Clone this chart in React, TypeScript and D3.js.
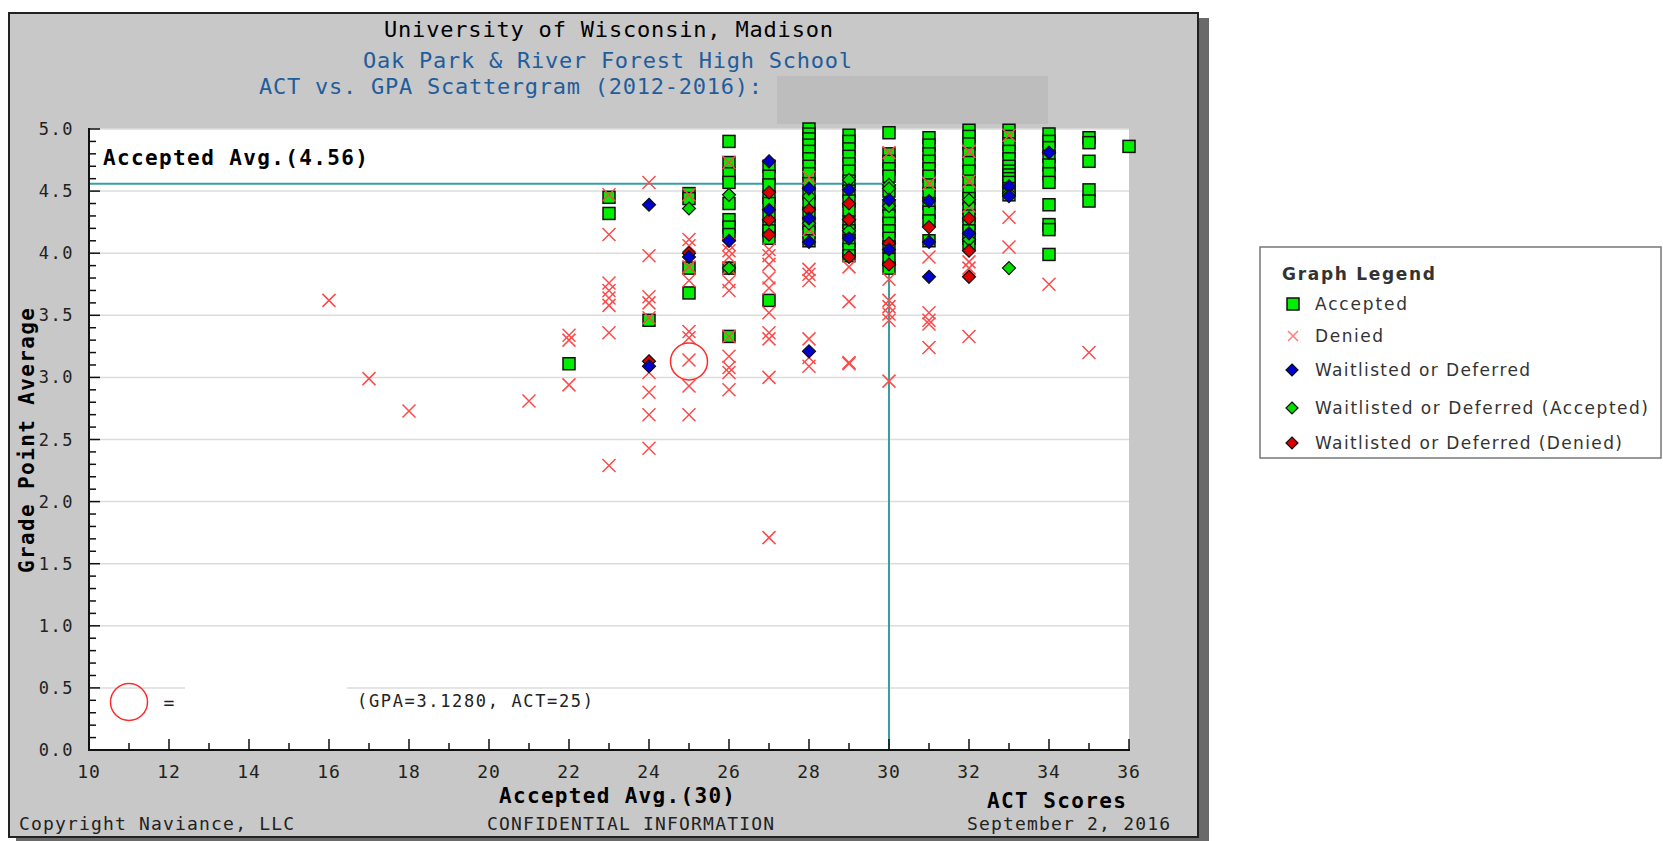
import React from 'react';
import * as d3 from 'd3';

// ACT / GPA pairs
const accepted: [number, number][] = [
  [22, 3.11],
  [23, 4.45], [23, 4.32],
  [24, 3.46],
  [25, 4.48], [25, 4.44], [25, 3.88], [25, 3.68],
  [26, 4.90], [26, 4.73], [26, 4.64], [26, 4.57], [26, 4.40], [26, 4.27], [26, 4.21], [26, 4.15], [26, 3.88], [26, 3.33],
  [27, 4.70], [27, 4.62], [27, 4.55], [27, 4.45], [27, 4.40], [27, 4.30], [27, 4.22], [27, 4.18], [27, 4.12], [27, 3.62],
  [28, 5.00], [28, 4.96], [28, 4.92], [28, 4.87], [28, 4.82], [28, 4.76], [28, 4.70], [28, 4.64], [28, 4.56], [28, 4.48],
  [28, 4.40], [28, 4.32], [28, 4.24], [28, 4.17], [28, 4.10],
  [29, 4.95], [29, 4.90], [29, 4.84], [29, 4.78], [29, 4.72], [29, 4.66], [29, 4.58], [29, 4.50], [29, 4.42], [29, 4.35],
  [29, 4.25], [29, 4.18], [29, 4.10], [29, 4.03], [29, 3.98],
  [30, 4.97], [30, 4.80], [30, 4.74], [30, 4.68], [30, 4.62], [30, 4.50], [30, 4.38], [30, 4.30], [30, 4.24], [30, 4.18],
  [30, 4.12], [30, 4.05], [30, 3.95], [30, 3.88],
  [31, 4.93], [31, 4.87], [31, 4.80], [31, 4.74], [31, 4.68], [31, 4.62], [31, 4.55], [31, 4.48], [31, 4.40], [31, 4.33],
  [31, 4.26], [31, 4.10],
  [32, 4.99], [32, 4.94], [32, 4.88], [32, 4.80], [32, 4.73], [32, 4.66], [32, 4.58], [32, 4.50], [32, 4.44], [32, 4.36],
  [32, 4.30], [32, 4.24], [32, 4.18], [32, 4.12], [32, 4.07],
  [33, 4.99], [33, 4.94], [33, 4.88], [33, 4.82], [33, 4.76], [33, 4.70], [33, 4.66], [33, 4.63], [33, 4.60], [33, 4.57],
  [33, 4.52], [33, 4.47],
  [34, 4.96], [34, 4.90], [34, 4.85], [34, 4.78], [34, 4.71], [34, 4.64], [34, 4.57], [34, 4.39], [34, 4.23], [34, 4.19], [34, 3.99],
  [35, 4.93], [35, 4.89], [35, 4.74], [35, 4.51], [35, 4.42],
  [36, 4.86],
];

const denied: [number, number][] = [
  [16, 3.62], [17, 2.99], [18, 2.73], [21, 2.81],
  [22, 3.34], [22, 3.30], [22, 2.94],
  [23, 4.47], [23, 4.15], [23, 3.76], [23, 3.70], [23, 3.64], [23, 3.58], [23, 3.36], [23, 2.29],
  [24, 4.57], [24, 3.98], [24, 3.65], [24, 3.60], [24, 3.48], [24, 3.04], [24, 2.88], [24, 2.70], [24, 2.43],
  [25, 4.47], [25, 4.11], [25, 4.06], [25, 3.89], [25, 3.78], [25, 3.37], [25, 3.32], [25, 3.14], [25, 2.93], [25, 2.70],
  [26, 4.73], [26, 4.07], [26, 4.02], [26, 3.97], [26, 3.88], [26, 3.77], [26, 3.70], [26, 3.33], [26, 3.17], [26, 3.08],
  [26, 3.04], [26, 2.90],
  [27, 4.03], [27, 3.98], [27, 3.91], [27, 3.80], [27, 3.72], [27, 3.52], [27, 3.36], [27, 3.31], [27, 3.00], [27, 1.71],
  [28, 4.61], [28, 4.19], [28, 3.87], [28, 3.83], [28, 3.78], [28, 3.31], [28, 3.16], [28, 3.09],
  [29, 3.89], [29, 3.61], [29, 3.12], [29, 3.11],
  [30, 4.81], [30, 3.79], [30, 3.62], [30, 3.57], [30, 3.51], [30, 3.46], [30, 2.97],
  [31, 4.56], [31, 3.97], [31, 3.52], [31, 3.46], [31, 3.43], [31, 3.24],
  [32, 4.82], [32, 4.58], [32, 4.38], [32, 3.93], [32, 3.88], [32, 3.33],
  [33, 4.95], [33, 4.29], [33, 4.05],
  [34, 3.75], [35, 3.20],
];

const waitlisted: [number, number][] = [
  [24, 4.39], [24, 3.09], [25, 3.97], [26, 4.10], [27, 4.74], [27, 4.35],
  [28, 4.52], [28, 4.28], [28, 4.09], [28, 3.21], [29, 4.51], [29, 4.12],
  [30, 4.43], [30, 4.03], [31, 4.42], [31, 4.09], [31, 3.81], [32, 4.16],
  [33, 4.54], [33, 4.46], [34, 4.81],
];

const wlAccepted: [number, number][] = [
  [25, 4.36], [26, 4.47], [26, 3.88], [28, 4.46], [28, 4.24], [29, 4.59], [29, 4.27], [29, 4.18],
  [30, 4.55], [30, 4.52], [30, 4.38], [32, 4.43], [32, 4.11], [33, 4.48], [33, 3.88],
];

const wlDenied: [number, number][] = [
  [24, 3.13], [25, 4.00], [27, 4.49], [27, 4.27], [27, 4.15], [28, 4.35], [29, 4.40], [29, 4.27], [29, 3.97],
  [30, 4.08], [30, 3.91], [31, 4.21], [32, 4.28], [32, 4.02], [32, 3.81],
];

const actTicks = d3.range(10, 37, 2);
const actMinor = d3.range(10, 37, 1);
const gpaTicks = d3.range(0, 11).map(i => i * 0.5);
const gpaMinor = d3.range(0, 51).map(i => i * 0.1);

const acceptedAvgGpa = 4.56;
const acceptedAvgAct = 30;
const you = { gpa: 3.128, act: 25 };

const legendItems = [
  { label: 'Accepted', kind: 'square', fill: '#00ee00' },
  { label: 'Denied', kind: 'x', fill: '#ff7b7b' },
  { label: 'Waitlisted or Deferred', kind: 'diamond', fill: '#0000cc' },
  { label: 'Waitlisted or Deferred (Accepted)', kind: 'diamond', fill: '#00dd00' },
  { label: 'Waitlisted or Deferred (Denied)', kind: 'diamond', fill: '#dd0000' },
];

const MONO = '"DejaVu Sans Mono", "Liberation Mono", monospace';
const SANS = '"DejaVu Sans", Verdana, sans-serif';

const x = d3.scaleLinear().domain([10, 36]).range([89, 1129]);
const y = d3.scaleLinear().domain([0, 5]).range([750, 129]);

const diamond = (r: number) => `M0,${-r}L${r},0L0,${r}L${-r},0Z`;
const cross = (r: number) => `M${-r},${-r}L${r},${r}M${-r},${r}L${r},${-r}`;

function Diamonds({ data, fill }: { data: [number, number][]; fill: string }) {
  return (
    <g>
      {data.map((d, i) => (
        <path key={i} transform={`translate(${x(d[0])},${y(d[1])})`} d={diamond(6.5)}
          fill={fill} stroke="#111" strokeWidth={1.2} />
      ))}
    </g>
  );
}

export default function App() {
  const [x0, x1] = x.range();
  const [y0, y1] = y.range();
  return (
    <svg width={1663} height={841} style={{ position: 'absolute', left: 0, top: 0 }}>
      {/* panel + shadow */}
      <rect x={1198} y={18} width={11} height={823} fill="#6a6a6a" />
      <rect x={16} y={837} width={1193} height={4} fill="#6a6a6a" />
      <rect x={9} y={13} width={1189} height={824} fill="#c8c8c8" stroke="#222" strokeWidth={2} />
      <rect x={777} y={76} width={271} height={48} fill="#bdbdbd" />

      {/* titles */}
      <text x={384} y={37} textLength={449} lengthAdjust="spacing" fontFamily={MONO} fontSize={22} fill="#000">University of Wisconsin, Madison</text>
      <text x={363} y={68} textLength={489} lengthAdjust="spacing" fontFamily={MONO} fontSize={22} fill="#1f5d9c">Oak Park &amp; River Forest High School</text>
      <text x={259} y={94} textLength={503} lengthAdjust="spacing" fontFamily={MONO} fontSize={22} fill="#1f5d9c">ACT vs. GPA Scattergram (2012-2016):</text>

      {/* plot area */}
      <rect x={x0} y={y1} width={x1 - x0} height={y0 - y1} fill="#fff" />
      {gpaTicks.filter(t => t > 0).map(t => (
        <line key={t} x1={x0} x2={x1} y1={y(t)} y2={y(t)} stroke="#dcdcdc" strokeWidth={1.5} />
      ))}
      <rect x={185} y={684} width={162} height={36} fill="#fff" />

      {/* average lines */}
      <line x1={x0} x2={x(acceptedAvgAct)} y1={y(acceptedAvgGpa)} y2={y(acceptedAvgGpa)} stroke="#3a9e9e" strokeWidth={2} />
      <line x1={x(acceptedAvgAct)} x2={x(acceptedAvgAct)} y1={y(acceptedAvgGpa)} y2={y0} stroke="#3a9e9e" strokeWidth={2} />

      {/* axes */}
      {gpaMinor.map((t, i) => (
        <line key={'ym' + i} x1={x0} x2={x0 + (i % 5 === 0 ? 11 : 7)} y1={y(t)} y2={y(t)} stroke="#111" strokeWidth={1.5} />
      ))}
      {actMinor.map((t, i) => (
        <line key={'xm' + i} x1={x(t)} x2={x(t)} y1={y0} y2={y0 - (i % 2 === 0 ? 11 : 7)} stroke="#111" strokeWidth={1.5} />
      ))}
      <line x1={x0} x2={x0} y1={y1 - 1} y2={y0 + 1} stroke="#111" strokeWidth={2} />
      <line x1={x0 - 1} x2={x1 + 1} y1={y0} y2={y0} stroke="#111" strokeWidth={2} />
      {gpaTicks.map(t => (
        <text key={'yl' + t} x={74} y={y(t) + 6} textAnchor="end" fontFamily={MONO} fontSize={17} letterSpacing={1.5} fill="#222">{t.toFixed(1)}</text>
      ))}
      {actTicks.map(t => (
        <text key={'xl' + t} x={x(t)} y={778} textAnchor="middle" fontFamily={MONO} fontSize={18} letterSpacing={1} fill="#222">{t}</text>
      ))}

      <text x={103} y={165} textLength={265} lengthAdjust="spacing" fontFamily={MONO} fontSize={21} fontWeight="bold" fill="#000">Accepted Avg.(4.56)</text>

      {/* data */}
      <g>
        {accepted.map((d, i) => (
          <rect key={i} x={x(d[0]) - 6} y={y(d[1]) - 6} width={12} height={12} fill="#00ee00" stroke="#111" strokeWidth={1.5} />
        ))}
      </g>
      <g>
        {denied.map((d, i) => (
          <path key={i} transform={`translate(${x(d[0])},${y(d[1])})`} d={cross(6.5)} stroke="#ff4a4a" strokeWidth={1.5} fill="none" />
        ))}
      </g>
      <Diamonds data={wlAccepted} fill="#00dd00" />
      <Diamonds data={wlDenied} fill="#dd0000" />
      <Diamonds data={waitlisted} fill="#0000cc" />

      {/* your position */}
      <circle cx={x(you.act)} cy={y(you.gpa)} r={18.5} fill="none" stroke="#ff2a2a" strokeWidth={1.5} />
      <circle cx={x(11)} cy={702} r={18.5} fill="none" stroke="#ff2a2a" strokeWidth={1.5} />
      <text x={169} y={709} textAnchor="middle" fontFamily={MONO} fontSize={18} fill="#222">=</text>
      <text x={357} y={707} textLength={236} lengthAdjust="spacing" fontFamily={MONO} fontSize={17} fill="#222">(GPA=3.1280, ACT=25)</text>

      {/* axis titles + footer */}
      <text transform="translate(34,573) rotate(-90)" textLength={265} lengthAdjust="spacing" fontFamily={MONO} fontSize={21} fontWeight="bold" fill="#000">Grade Point Average</text>
      <text x={499} y={803} textLength={236} lengthAdjust="spacing" fontFamily={MONO} fontSize={21} fontWeight="bold" fill="#000">Accepted Avg.(30)</text>
      <text x={987} y={808} textLength={139} lengthAdjust="spacing" fontFamily={MONO} fontSize={21} fontWeight="bold" fill="#000">ACT Scores</text>
      <text x={19} y={830} textLength={275} lengthAdjust="spacing" fontFamily={MONO} fontSize={18} fill="#222">Copyright Naviance, LLC</text>
      <text x={487} y={830} textLength={287} lengthAdjust="spacing" fontFamily={MONO} fontSize={18} fill="#222">CONFIDENTIAL INFORMATION</text>
      <text x={967} y={830} textLength={203} lengthAdjust="spacing" fontFamily={MONO} fontSize={18} fill="#222">September 2, 2016</text>

      {/* legend */}
      <rect x={1260} y={247} width={401} height={211} fill="#fff" stroke="#777" strokeWidth={1.5} />
      <text x={1282} y={280} textLength={153} lengthAdjust="spacing" fontFamily={SANS} fontSize={17} fontWeight="bold" fill="#333">Graph Legend</text>
      {legendItems.map((item, i) => {
        const cy = [304, 336, 370, 408, 443][i];
        const tw = [92, 68, 215, 333, 307][i];
        return (
          <g key={item.label}>
            {item.kind === 'square' && <rect x={1287} y={cy - 6} width={12} height={12} fill={item.fill} stroke="#111" strokeWidth={1.5} />}
            {item.kind === 'x' && <path transform={`translate(1293,${cy})`} d={cross(5)} stroke={item.fill} strokeWidth={1.5} />}
            {item.kind === 'diamond' && <path transform={`translate(1292,${cy})`} d={diamond(6)} fill={item.fill} stroke="#111" strokeWidth={1.2} />}
            <text x={1315} y={cy + 6} textLength={tw} lengthAdjust="spacing" fontFamily={SANS} fontSize={17} fill="#333">{item.label}</text>
          </g>
        );
      })}
    </svg>
  );
}
